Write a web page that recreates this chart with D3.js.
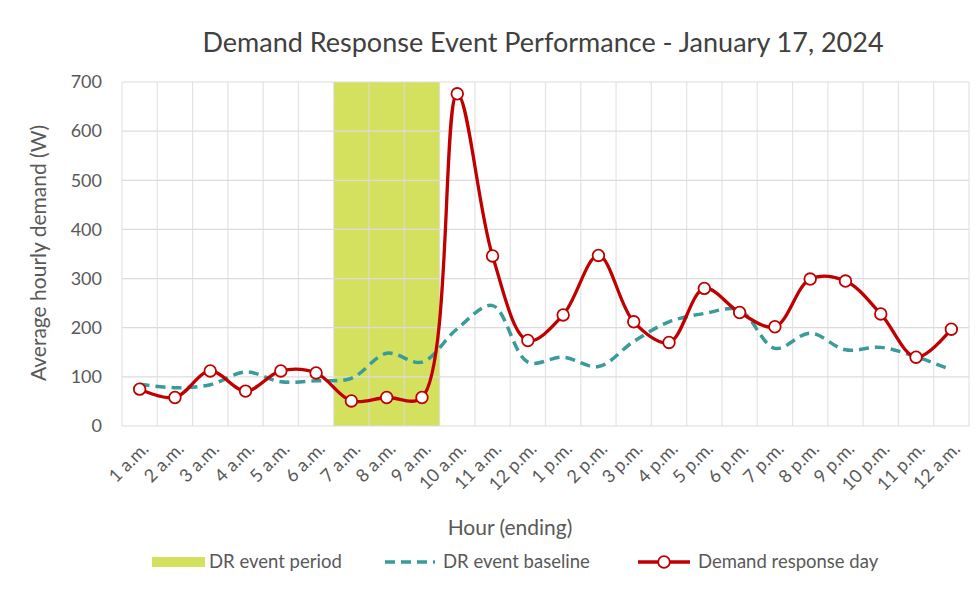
<!DOCTYPE html>
<html>
<head>
<meta charset="utf-8">
<script src="https://cdn.jsdelivr.net/npm/d3@7"></script>
<style>
  body { margin: 0; background: #fff; }
  text { font-family: Lato, "Open Sans", sans-serif; }
</style>
</head>
<body>
<script>
const width = 979,
    height = 591

const margin = { top: 82, right: 10, bottom: 165, left: 122 }

const hours = ["1 a.m.", "2 a.m.", "3 a.m.", "4 a.m.", "5 a.m.", "6 a.m.", "7 a.m.", "8 a.m.",
    "9 a.m.", "10 a.m.", "11 a.m.", "12 p.m.", "1 p.m.", "2 p.m.", "3 p.m.", "4 p.m.",
    "5 p.m.", "6 p.m.", "7 p.m.", "8 p.m.", "9 p.m.", "10 p.m.", "11 p.m.", "12 a.m."]

const baseline = [85, 78, 84, 110, 90, 92, 97, 148, 130, 198, 245, 130, 140, 121, 172, 212,
    229, 236, 158, 189, 155, 160, 141, 114]

const drDay = [75, 58, 112, 71, 112, 108, 51, 58, 58, 676, 346, 174, 226, 347, 212, 170,
    280, 231, 202, 299, 295, 228, 140, 197]

const eventHours = ["7 a.m.", "8 a.m.", "9 a.m."]

const yTicks = [0, 100, 200, 300, 400, 500, 600, 700]

const green = "#d4e15f",
    teal = "#3a9b9b",
    red = "#c00000",
    grid = "#dcdcdc",
    textColor = "#595959"

const svg = d3.select("body")
    .append("svg")
    .attr("width", width)
    .attr("height", height)

const x = d3.scaleBand()
    .domain(hours)
    .range([margin.left, width - margin.right])
    .padding(0)

const y = d3.scaleLinear()
    .domain([0, 700])
    .range([height - margin.bottom, margin.top])

// event period band
svg.append("rect")
    .attr("x", x(eventHours[0]))
    .attr("y", y(700))
    .attr("width", x(eventHours[eventHours.length - 1]) + x.bandwidth() - x(eventHours[0]))
    .attr("height", y(0) - y(700))
    .attr("fill", green)

// gridlines
svg.append("g")
    .selectAll("line")
    .data(yTicks)
    .join("line")
    .attr("x1", margin.left)
    .attr("x2", width - margin.right)
    .attr("y1", d => y(d))
    .attr("y2", d => y(d))
    .attr("stroke", grid)
    .attr("stroke-width", 1.2)

const edges = hours.map(h => x(h)).concat([x.range()[1]])
svg.append("g")
    .selectAll("line")
    .data(edges)
    .join("line")
    .attr("x1", d => d)
    .attr("x2", d => d)
    .attr("y1", y(0))
    .attr("y2", y(700))
    .attr("stroke", grid)
    .attr("stroke-opacity", 0.8)
    .attr("stroke-width", 1.2)

// y axis
const yAxis = svg.append("g")
    .attr("transform", `translate(${margin.left}, 0)`)
    .call(d3.axisLeft(y).tickValues(yTicks).tickSize(0).tickPadding(20))
yAxis.select(".domain").remove()
yAxis.selectAll("text")
    .attr("fill", textColor)
    .style("font-size", "18px")
    .style("font-family", "Lato")

// x axis
const xAxis = svg.append("g")
    .attr("transform", `translate(0, ${y(0)})`)
    .call(d3.axisBottom(x).tickSize(0).tickPadding(0))
xAxis.select(".domain").remove()
xAxis.selectAll("text")
    .attr("fill", textColor)
    .style("font-size", "18px")
    .style("font-family", "Lato")
    .attr("text-anchor", "end")
    .attr("dy", "0")
    .attr("y", 0)
    .attr("transform", "translate(10, 24) rotate(-45)")

const cx = d => x(d) + x.bandwidth() / 2

// baseline
svg.append("path")
    .datum(hours.map((h, i) => [cx(h), y(baseline[i])]))
    .attr("d", d3.line().curve(d3.curveCatmullRom.alpha(0.5)))
    .attr("fill", "none")
    .attr("stroke", teal)
    .attr("stroke-width", 3.5)
    .attr("stroke-dasharray", "10,6")

// demand response day
svg.append("path")
    .datum(hours.map((h, i) => [cx(h), y(drDay[i])]))
    .attr("d", d3.line().curve(d3.curveCatmullRom.alpha(0.5)))
    .attr("fill", "none")
    .attr("stroke", red)
    .attr("stroke-width", 3.3)

svg.append("g")
    .selectAll("circle")
    .data(hours)
    .join("circle")
    .attr("cx", d => cx(d))
    .attr("cy", (d, i) => y(drDay[i]))
    .attr("r", 5.8)
    .attr("fill", "white")
    .attr("stroke", red)
    .attr("stroke-width", 1.8)

// titles
svg.append("text")
    .attr("x", 543)
    .attr("y", 52)
    .attr("text-anchor", "middle")
    .attr("fill", "#404040")
    .style("font-size", "27px")
    .text("Demand Response Event Performance - January 17, 2024")

svg.append("text")
    .attr("transform", `translate(46, 253) rotate(-90)`)
    .attr("text-anchor", "middle")
    .attr("fill", textColor)
    .style("font-size", "21px")
    .text("Average hourly demand (W)")

svg.append("text")
    .attr("x", 510)
    .attr("y", 535)
    .attr("text-anchor", "middle")
    .attr("fill", textColor)
    .style("font-size", "21px")
    .text("Hour (ending)")

// legend
const legend = svg.append("g").attr("transform", "translate(0, 562)")

legend.append("rect")
    .attr("x", 152).attr("y", -5)
    .attr("width", 53).attr("height", 10)
    .attr("fill", green)
legend.append("text")
    .attr("x", 209).attr("y", 6)
    .attr("fill", textColor)
    .style("font-size", "18.5px")
    .text("DR event period")

legend.append("line")
    .attr("x1", 385).attr("x2", 435)
    .attr("stroke", teal)
    .attr("stroke-width", 3.5)
    .attr("stroke-dasharray", "10,6")
legend.append("text")
    .attr("x", 443).attr("y", 6)
    .attr("fill", textColor)
    .style("font-size", "18.5px")
    .text("DR event baseline")

legend.append("line")
    .attr("x1", 638).attr("x2", 690)
    .attr("stroke", red)
    .attr("stroke-width", 3.3)
legend.append("circle")
    .attr("cx", 664).attr("r", 5.8)
    .attr("fill", "white")
    .attr("stroke", red)
    .attr("stroke-width", 1.8)
legend.append("text")
    .attr("x", 698).attr("y", 6)
    .attr("fill", textColor)
    .style("font-size", "18.5px")
    .text("Demand response day")
</script>
</body>
</html>
